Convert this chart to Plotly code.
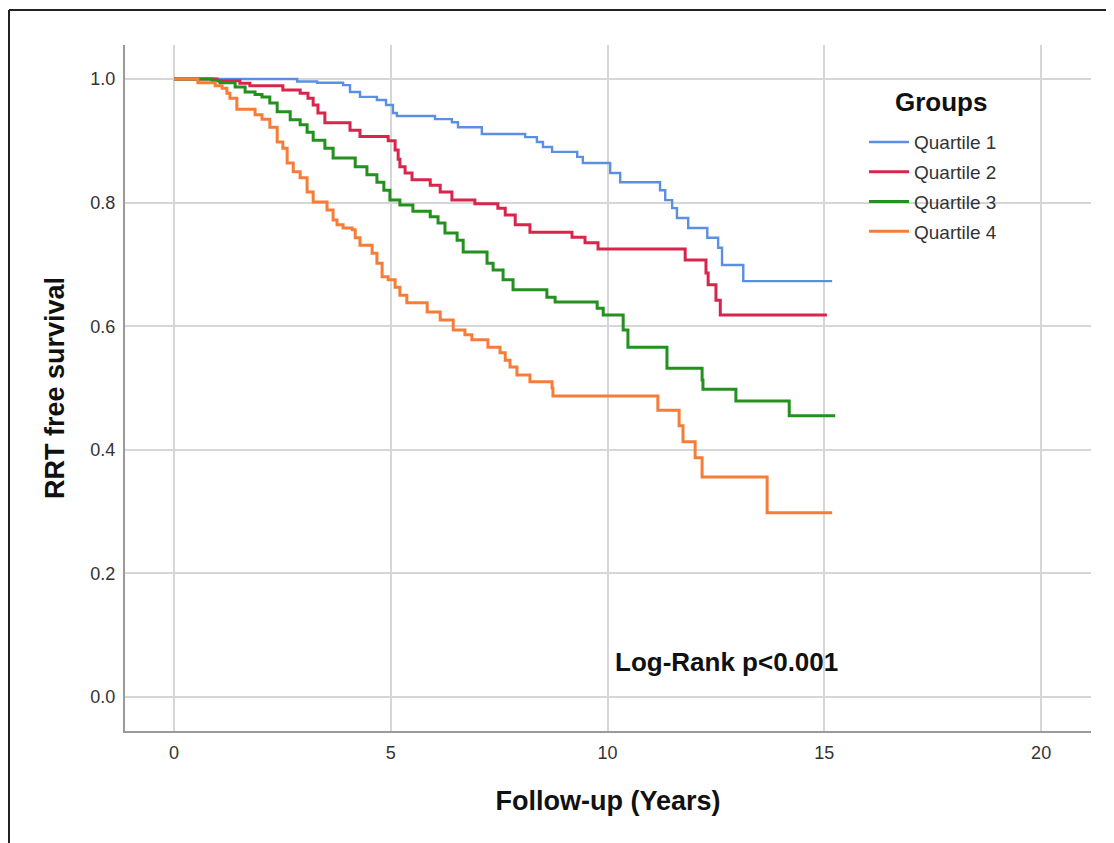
import plotly.graph_objects as go

# ---- data ----
q1_t = [0, 2.84, 3.30, 3.90, 4.06, 4.29, 4.68, 4.89, 5.05, 5.14, 6.02, 6.41, 6.55, 7.10, 8.10, 8.37,
        8.51, 8.72, 9.30, 9.43, 10.06, 10.29, 11.21, 11.33, 11.49, 11.60, 11.86, 12.30, 12.55, 12.64,
        13.13, 15.18]
q1_s = [1.0, 0.996, 0.994, 0.990, 0.979, 0.971, 0.966, 0.958, 0.945, 0.940, 0.935, 0.930, 0.922,
        0.911, 0.906, 0.898, 0.890, 0.882, 0.874, 0.864, 0.848, 0.833, 0.820, 0.804, 0.791, 0.775,
        0.759, 0.743, 0.727, 0.699, 0.673, 0.673]

q2_t = [0, 0.99, 1.52, 1.75, 2.51, 2.91, 3.09, 3.21, 3.32, 3.48, 4.06, 4.29, 4.94, 5.10, 5.17, 5.21,
        5.33, 5.49, 5.91, 6.14, 6.41, 6.94, 7.47, 7.64, 7.87, 8.21, 9.18, 9.48, 9.78, 11.79, 12.27,
        12.32, 12.50, 12.60, 15.06]
q2_s = [1.0, 0.997, 0.993, 0.989, 0.982, 0.977, 0.969, 0.958, 0.945, 0.929, 0.917, 0.907, 0.900,
        0.885, 0.870, 0.858, 0.848, 0.837, 0.828, 0.817, 0.804, 0.798, 0.791, 0.780, 0.764, 0.752,
        0.744, 0.735, 0.725, 0.707, 0.686, 0.667, 0.642, 0.618, 0.618]

q3_t = [0, 0.88, 1.06, 1.41, 1.64, 1.87, 2.03, 2.21, 2.38, 2.68, 2.91, 3.07, 3.21, 3.48, 3.67, 4.18,
        4.45, 4.68, 4.84, 4.98, 5.21, 5.51, 5.91, 6.09, 6.25, 6.53, 6.67, 7.22, 7.36, 7.59, 7.82,
        8.60, 8.79, 9.76, 9.90, 10.36, 10.47, 11.37, 12.18, 12.20, 12.96, 14.19, 15.25]
q3_s = [1.0, 0.997, 0.994, 0.987, 0.979, 0.975, 0.971, 0.961, 0.947, 0.934, 0.926, 0.914, 0.901,
        0.888, 0.872, 0.858, 0.845, 0.833, 0.820, 0.804, 0.796, 0.786, 0.777, 0.767, 0.751, 0.739,
        0.720, 0.702, 0.691, 0.675, 0.659, 0.647, 0.639, 0.629, 0.618, 0.594, 0.566, 0.532, 0.513,
        0.498, 0.479, 0.455, 0.455]

q4_t = [0, 0.55, 0.95, 1.11, 1.22, 1.29, 1.45, 1.87, 2.03, 2.21, 2.38, 2.51, 2.61, 2.75, 2.91, 3.07,
        3.21, 3.53, 3.67, 3.76, 3.90, 4.11, 4.18, 4.29, 4.57, 4.68, 4.80, 4.94, 5.10, 5.21, 5.37,
        5.84, 6.14, 6.44, 6.71, 6.87, 7.24, 7.52, 7.64, 7.75, 7.91, 8.21, 8.72, 8.74, 11.16, 11.65,
        11.74, 12.02, 12.18, 13.68, 15.18]
q4_s = [1.0, 0.994, 0.989, 0.985, 0.977, 0.969, 0.951, 0.942, 0.935, 0.922, 0.898, 0.888, 0.864,
        0.850, 0.840, 0.817, 0.801, 0.788, 0.772, 0.764, 0.759, 0.756, 0.743, 0.731, 0.718, 0.702,
        0.680, 0.675, 0.663, 0.650, 0.638, 0.623, 0.610, 0.594, 0.586, 0.578, 0.566, 0.557, 0.545,
        0.534, 0.521, 0.510, 0.500, 0.487, 0.464, 0.439, 0.413, 0.387, 0.356, 0.298, 0.298]

group_names = ["Quartile 1", "Quartile 2", "Quartile 3", "Quartile 4"]
series = [(q1_t, q1_s), (q2_t, q2_s), (q3_t, q3_s), (q4_t, q4_s)]
colors = ["#5b8fe3", "#d9244c", "#23901f", "#f67d38"]
widths = [2.4, 3, 3, 3]

x_ticks = [0, 5, 10, 15, 20]
y_ticks = [0.0, 0.2, 0.4, 0.6, 0.8, 1.0]
y_tick_text = ["0.0", "0.2", "0.4", "0.6", "0.8", "1.0"]

FONT = "Arial, Liberation Sans, sans-serif"

fig = go.Figure()
for name, (t, s), c, w in zip(group_names, series, colors, widths):
    fig.add_trace(go.Scatter(x=t, y=s, mode="lines", name=name, legendgroup=name,
                             line=dict(color=c, width=w, shape="hv")))

# page is rendered with an 8px body margin, so figure coords = page coords - 8
fig.update_layout(
    width=1114, height=843,
    margin=dict(l=117, r=31, t=37, b=120),
    paper_bgcolor="white", plot_bgcolor="white",
    font=dict(family=FONT, color="#333333"),
    showlegend=True,
    legend=dict(x=0.765, y=0.886, xanchor="left", yanchor="top",
                font=dict(size=19, color="#333333", family=FONT),
                bgcolor="rgba(0,0,0,0)", itemwidth=40, tracegroupgap=2),
)

fig.update_xaxes(range=[-1.13, 21.15], tickvals=x_ticks, showgrid=True,
                 gridcolor="#d6d6d6", gridwidth=2, zeroline=False,
                 showline=True, linecolor="#9a9a9a", linewidth=2,
                 ticks="", ticklabelstandoff=4,
                 tickfont=dict(size=18, color="#333333", family=FONT),
                 title=dict(text="<b>Follow-up (Years)</b>", standoff=30,
                            font=dict(size=27, color="#111111", family=FONT)))
fig.update_yaxes(range=[-0.055, 1.055], tickvals=y_ticks, ticktext=y_tick_text, showgrid=True,
                 gridcolor="#d6d6d6", gridwidth=2, zeroline=False,
                 showline=True, linecolor="#9a9a9a", linewidth=2,
                 ticks="", ticklabelstandoff=4,
                 tickfont=dict(size=18, color="#333333", family=FONT),
                 title=dict(text="<b>RRT free survival</b>", standoff=18,
                            font=dict(size=27, color="#111111", family=FONT)))

# Legend title
fig.add_annotation(xref="paper", yref="paper", x=(941 - 125) / 966, y=(731 - 102) / 686,
                   text="<b>Groups</b>", showarrow=False, xanchor="center", yanchor="middle",
                   font=dict(size=26, color="#111111", family=FONT))

# Log-rank text
fig.add_annotation(xref="x", yref="y", x=10.13, y=0.057, text="<b>Log-Rank p<0.001</b>",
                   showarrow=False, xanchor="left", yanchor="middle",
                   font=dict(size=26, color="#111111", family=FONT))

# Outer frame (top and left edges)
fig.add_shape(type="line", xref="paper", yref="paper",
              x0=(9 - 125) / 966, x1=(1114 - 125) / 966, y0=(731 - 10) / 686, y1=(731 - 10) / 686,
              line=dict(color="#222222", width=2))
fig.add_shape(type="line", xref="paper", yref="paper",
              x0=(9 - 125) / 966, x1=(9 - 125) / 966, y0=(731 - 10) / 686, y1=(731 - 843) / 686,
              line=dict(color="#222222", width=2))

fig.write_html("out.html")
